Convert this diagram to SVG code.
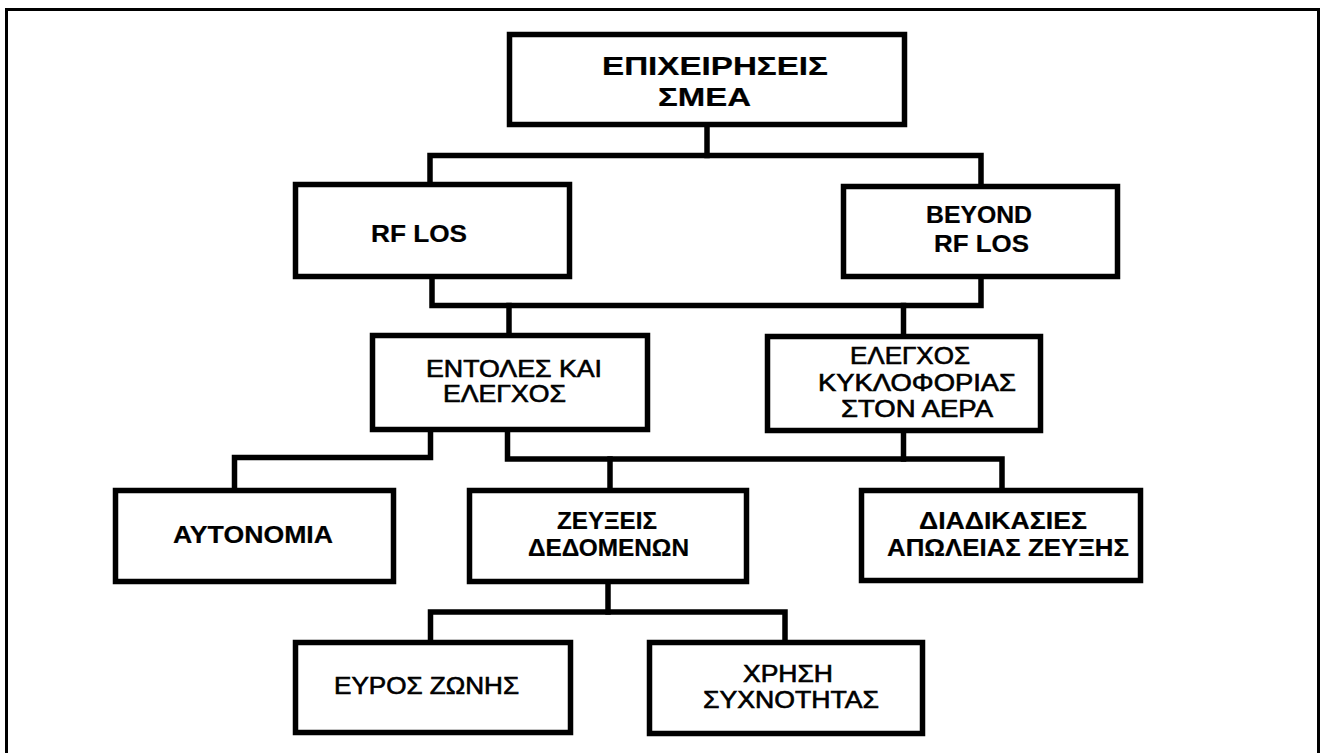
<svg xmlns="http://www.w3.org/2000/svg" width="1327" height="753" viewBox="0 0 1327 753">
<style>
.frame{fill:none;stroke:#000;stroke-width:3}
.box{fill:#fff;stroke:#000;stroke-width:5.5}
.conn{fill:none;stroke:#000;stroke-width:5.5;stroke-linecap:square}
text{font-family:"Liberation Sans",Arial,sans-serif;font-size:23px;fill:#000;text-anchor:middle;stroke:#000;stroke-width:0.6}
.b{font-weight:bold;stroke-width:0.2}
.big{font-size:25.5px;font-weight:bold;stroke-width:0.2}
</style>
<rect width="1327" height="753" fill="#fff"/>
<rect class="frame" x="6.5" y="9.5" width="1312" height="760"/>
<g id="connectors">
<path class="conn" d="M707 127 V155.5"/>
<path class="conn" d="M430 184 V155.5 H981 V186"/>
<path class="conn" d="M432 279 V305.5 H981 V279"/>
<path class="conn" d="M509 305.5 V335"/>
<path class="conn" d="M903.5 305.5 V336"/>
<path class="conn" d="M430.5 432 V457.5 H234.5 V490"/>
<path class="conn" d="M507.5 432 V459 H1002 V490"/>
<path class="conn" d="M610 459 V490"/>
<path class="conn" d="M903.5 433 V459"/>
<path class="conn" d="M608 584 V612"/>
<path class="conn" d="M430.5 642 V612 H785 V642"/>
</g>
<g id="n-smea">
<rect class="box" x="509.5" y="34.5" width="395" height="90"/>
<text class="big" x="715" y="75" textLength="226" lengthAdjust="spacingAndGlyphs">ΕΠΙΧΕΙΡΗΣΕΙΣ</text>
<text class="big" x="704.5" y="106" textLength="93" lengthAdjust="spacingAndGlyphs">ΣΜΕΑ</text>
</g>
<g id="n-rflos">
<rect class="box" x="295.5" y="184.5" width="274" height="92"/>
<text class="b" x="419" y="242" textLength="96" lengthAdjust="spacingAndGlyphs">RF LOS</text>
</g>
<g id="n-beyond">
<rect class="box" x="843.5" y="186.5" width="274" height="90"/>
<text class="b" x="979" y="223" textLength="106" lengthAdjust="spacingAndGlyphs">BEYOND</text>
<text class="b" x="981.5" y="252" textLength="95" lengthAdjust="spacingAndGlyphs">RF LOS</text>
</g>
<g id="n-entoles">
<rect class="box" x="372.5" y="335.5" width="275" height="94"/>
<text x="514" y="377" textLength="176" lengthAdjust="spacingAndGlyphs">ΕΝΤΟΛΕΣ ΚΑΙ</text>
<text x="504.5" y="402" textLength="123" lengthAdjust="spacingAndGlyphs">ΕΛΕΓΧΟΣ</text>
</g>
<g id="n-atc">
<rect class="box" x="767.5" y="336.5" width="273" height="94"/>
<text x="910" y="364" textLength="120" lengthAdjust="spacingAndGlyphs">ΕΛΕΓΧΟΣ</text>
<text x="917" y="391" textLength="198" lengthAdjust="spacingAndGlyphs">ΚΥΚΛΟΦΟΡΙΑΣ</text>
<text x="917" y="417" textLength="152" lengthAdjust="spacingAndGlyphs">ΣΤΟΝ ΑΕΡΑ</text>
</g>
<g id="n-autonomia">
<rect class="box" x="115.5" y="490.5" width="278" height="91"/>
<text class="b" x="253" y="543" textLength="160" lengthAdjust="spacingAndGlyphs">ΑΥΤΟΝΟΜΙΑ</text>
</g>
<g id="n-zeuxeis">
<rect class="box" x="469.5" y="490.5" width="277" height="91"/>
<text class="b" x="607" y="529" textLength="100" lengthAdjust="spacingAndGlyphs">ΖΕΥΞΕΙΣ</text>
<text class="b" x="608.5" y="556" textLength="161" lengthAdjust="spacingAndGlyphs">ΔΕΔΟΜΕΝΩΝ</text>
</g>
<g id="n-diadikasies">
<rect class="box" x="861.5" y="490.5" width="279" height="90"/>
<text class="b" x="1003" y="529" textLength="168" lengthAdjust="spacingAndGlyphs">ΔΙΑΔΙΚΑΣΙΕΣ</text>
<text class="b" x="1008" y="556" textLength="242" lengthAdjust="spacingAndGlyphs">ΑΠΩΛΕΙΑΣ ΖΕΥΞΗΣ</text>
</g>
<g id="n-euros">
<rect class="box" x="295.5" y="642.5" width="275" height="90"/>
<text x="426.5" y="694" textLength="185" lengthAdjust="spacingAndGlyphs">ΕΥΡΟΣ ΖΩΝΗΣ</text>
</g>
<g id="n-xrisi">
<rect class="box" x="649.5" y="642.5" width="273" height="91"/>
<text x="788" y="682" textLength="90" lengthAdjust="spacingAndGlyphs">ΧΡΗΣΗ</text>
<text x="791" y="708" textLength="176" lengthAdjust="spacingAndGlyphs">ΣΥΧΝΟΤΗΤΑΣ</text>
</g>
</svg>
